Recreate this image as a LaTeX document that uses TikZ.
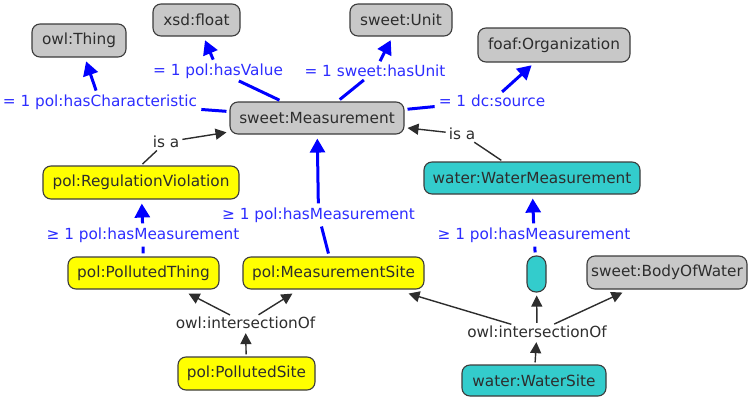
\documentclass[tikz,border=0pt]{standalone}
\usepackage{fontspec}
\setmainfont{DejaVu Sans}
\usetikzlibrary{arrows.meta}
\definecolor{boxgray}{RGB}{200,200,200}
\definecolor{boxyellow}{RGB}{255,255,0}
\definecolor{boxteal}{RGB}{51,204,204}
\definecolor{edgeblue}{RGB}{0,0,255}
\definecolor{lblblue}{RGB}{45,45,255}
\definecolor{txtgray}{RGB}{45,45,45}
\definecolor{bordergray}{RGB}{60,60,60}
\begin{document}
\begin{tikzpicture}[x=1pt,y=-1pt,
  cbox/.style={draw=bordergray, line width=1.1pt, rounded corners=8pt, inner sep=0pt, font=\fontsize{15.3}{18}\selectfont, text=txtgray},
  gbox/.style={cbox, fill=boxgray},
  ybox/.style={cbox, fill=boxyellow},
  tbox/.style={cbox, fill=boxteal},
  bl/.style={font=\fontsize{15.3}{18}\selectfont, text=lblblue, inner sep=1pt},
  kl/.style={font=\fontsize{15.3}{18}\selectfont, text=txtgray, inner sep=1pt},
  bline/.style={draw=edgeblue, line width=3pt, shorten <=3pt, shorten >=3pt},
  barrow/.style={bline, -{Triangle[length=14pt,width=15pt]}, shorten >=4pt},
  kline/.style={draw=txtgray, line width=1.4pt, shorten <=2pt, shorten >=2pt},
  karrow/.style={kline, -{Triangle[length=11pt,width=11pt]}, shorten >=3pt},
  karrowx/.style={kline, -{Triangle[length=11pt,width=11pt]}, shorten >=0pt},
]
\useasboundingbox (0,0) rectangle (753,399);
% boxes
\node[gbox, minimum width=94pt, minimum height=33pt] (thing) at (79,40.5) {owl:Thing};
\node[gbox, minimum width=87pt, minimum height=32pt] (float) at (196.5,20) {xsd:float};
\node[gbox, minimum width=102pt, minimum height=32pt] (unit) at (401,20) {sweet:Unit};
\node[gbox, minimum width=152pt, minimum height=34pt] (org) at (554,45) {foaf:Organization};
\node[gbox, minimum width=174pt, minimum height=32pt] (meas) at (317,118) {sweet:Measurement};
\node[ybox, minimum width=196pt, minimum height=33pt] (rv) at (141,182.5) {pol:RegulationViolation};
\node[tbox, minimum width=216pt, minimum height=32pt] (wm) at (532,178) {water:WaterMeasurement};
\node[ybox, minimum width=151pt, minimum height=32pt] (pt) at (143.5,273) {pol:PollutedThing};
\node[ybox, minimum width=181pt, minimum height=32pt] (ms) at (333.5,273) {pol:MeasurementSite};
\node[tbox, minimum width=19pt, minimum height=36pt, rounded corners=9pt] (pill) at (536.5,274) {};
\node[gbox, minimum width=160pt, minimum height=33pt] (bow) at (667,272.5) {sweet:BodyOfWater};
\node[ybox, minimum width=137pt, minimum height=33pt] (ps) at (246.5,373.5) {pol:PollutedSite};
\node[tbox, minimum width=144pt, minimum height=31pt] (ws) at (534,380.5) {water:WaterSite};
% labels
\node[bl] (hc) at (100,102) {= 1 pol:hasCharacteristic};
\node[bl] (hv) at (218,71) {= 1 pol:hasValue};
\node[bl] (hu) at (375,71) {= 1 sweet:hasUnit};
\node[bl] (src) at (492,101) {= 1 dc:source};
\node[kl] (isa1) at (166,142) {is a};
\node[kl] (isa2) at (462,134) {is a};
\node[bl] (hm1) at (143,235) {≥ 1 pol:hasMeasurement};
\node[bl] (hm2) at (318.5,215) {≥ 1 pol:hasMeasurement};
\node[bl] (hm3) at (534,235) {≥ 1 pol:hasMeasurement};
\node[kl] (io1) at (245.5,323) {owl:intersectionOf};
\node[kl] (io2) at (537,332) {owl:intersectionOf};
% blue connectors
\draw[bline] (meas) -- (hc);
\draw[barrow] (hc) -- (thing);
\draw[bline] (meas) -- (hv);
\draw[barrow] (hv) -- (float);
\draw[bline] (meas) -- (hu);
\draw[barrow] (hu) -- (unit);
\draw[bline] (meas) -- (src);
\draw[barrow] (src) -- (org);
\draw[bline] (pt) -- (hm1);
\draw[barrow] (hm1) -- (rv);
\draw[bline] (ms) -- (hm2);
\draw[barrow] (hm2) -- (meas);
\draw[bline] (pill) -- (hm3);
\draw[barrow] (hm3) -- (wm);
% black connectors
\draw[kline] (rv.north) -- (isa1);
\draw[karrow] (isa1) -- (meas);
\draw[kline] ([xshift=-29pt]wm.north) -- (isa2);
\draw[karrow] (isa2) -- (meas);
\draw[karrowx] (io1) -- ([xshift=-31pt,yshift=-4pt]pt.south east);
\draw[karrowx] (io1) -- ([xshift=50pt,yshift=-4pt]ms.south west);
\draw[karrow] (ps) -- (io1);
\draw[karrowx] (io2) -- ([xshift=-16pt,yshift=-4pt]ms.south east);
\draw[karrow] (io2) -- (pill);
\draw[karrowx] (io2) -- ([xshift=36pt,yshift=-3pt]bow.south west);
\draw[karrow] (ws) -- (io2);
\end{tikzpicture}
\end{document}
